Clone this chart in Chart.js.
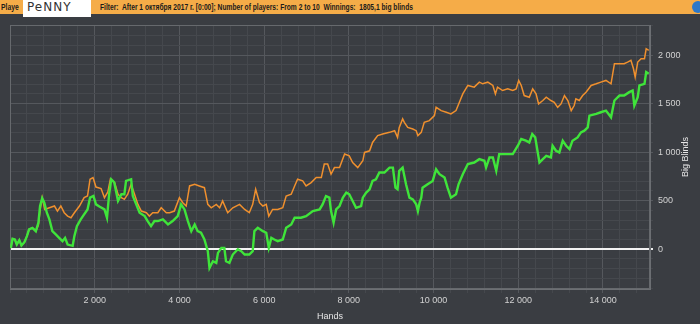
<!DOCTYPE html>
<html>
<head>
<meta charset="utf-8">
<script src="https://cdn.jsdelivr.net/npm/chart.js@4"></script>
<style>
  html, body { margin: 0; padding: 0; background: #3a3d42; overflow: hidden; }
  #wrap { position: relative; width: 700px; height: 324px; }
  #graph { position: absolute; left: 0; top: 0; }
  #bar {
    position: absolute; left: 0; top: 0; width: 700px; height: 14px;
    background: #f5ac48; z-index: 2;
    font: bold 9px "Liberation Sans", sans-serif; color: #1b1b1b;
  }
  #bar .t { position: absolute; top: 2px; white-space: nowrap; transform-origin: left top; }
  #player { left: 1px; transform: scaleX(0.75); }
  #filter { left: 100px; transform: scaleX(0.74); }
  #name {
    position: absolute; left: 23px; top: 0; width: 68px; height: 17px; background: #fff;
    font: 12px "DejaVu Sans", sans-serif; color: #333; letter-spacing: 1px;
    line-height: 15px; padding-left: 4px; box-sizing: border-box; z-index: 3;
  }
  #dot {
    position: absolute; left: 692px; top: 1px; width: 12px; height: 12px;
    border-radius: 50%; background: #2d78c8;
  }
</style>
</head>
<body>
<div id="wrap">
  <canvas id="graph" width="700" height="324"></canvas>
  <div id="bar">
    <span class="t" id="player">Playe</span>
    <div id="name">PeNNY</div>
    <span class="t" id="filter">Filter:&nbsp; After 1 октября 2017 г. [0:00]; Number of players: From 2 to 10&nbsp; Winnings:&nbsp; 1805,1 big blinds</span>
    <div id="dot"></div>
  </div>
</div>
<script>
// net winnings (green) and all-in adjusted (orange), big blinds by hand number
let greenHands = [
    20, 60, 115, 160, 220, 270, 340, 400, 450, 530, 610, 670, 710, 760, 810, 870,
    930, 1000, 1080, 1160, 1240, 1300, 1360, 1480, 1520, 1580, 1670, 1750, 1830, 1890,
    1970, 2030, 2110, 2230, 2290, 2340, 2390, 2460, 2550, 2630, 2700, 2740, 2860, 2900,
    2980, 3060, 3180, 3250, 3330, 3410, 3490, 3610, 3730, 3840, 3960, 4040, 4120, 4200,
    4280, 4360, 4430, 4510, 4590, 4670, 4710, 4790, 4870, 4910, 4990, 5060, 5100, 5180,
    5260, 5380, 5460, 5540, 5650, 5730, 5770, 5850, 5970, 6050, 6110, 6170, 6240, 6320,
    6440, 6520, 6640, 6720, 6870, 6990, 7150, 7310, 7380, 7460, 7540, 7580, 7640, 7700,
    7780, 7860, 7940, 8010, 8090, 8170, 8290, 8330, 8410, 8490, 8560, 8640, 8720, 8840,
    8960, 9040, 9100, 9150, 9190, 9270, 9310, 9350, 9430, 9510, 9590, 9630, 9670, 9710,
    9740, 9860, 9980, 10060, 10140, 10260, 10330, 10410, 10530, 10590, 10690, 10810,
    10960, 11080, 11200, 11240, 11320, 11400, 11480, 11550, 11710, 11870, 11990, 12070,
    12180, 12260, 12330, 12400, 12460, 12500, 12580, 12660, 12770, 12810, 12890, 12970,
    13050, 13130, 13210, 13280, 13400, 13480, 13560, 13640, 13680, 13840, 13950, 14070,
    14190, 14270, 14390, 14500, 14620, 14700, 14740, 14820, 14860, 14980, 15020, 15080
];
let greenValues = [
    13, 107, 100, 48, 93, 38, 72, 135, 204, 220, 186, 272, 445, 525, 479, 376,
    307, 186, 152, 117, 83, 117, 48, 35, 135, 238, 307, 359, 410, 531,
    548, 462, 440, 410, 324, 566, 721, 690, 497, 566, 566, 704, 721, 548,
    462, 376, 341, 290, 238, 290, 290, 307, 255, 290, 341, 462, 410, 290,
    186, 255, 186, 170, 100, -20, -193, -124, -141, -38, 13, 13, -124, -141,
    -55, 0, -20, -55, -55, -20, 186, 220, 186, 170, 13, 117, 100, 83,
    100, 220, 255, 324, 324, 341, 393, 410, 462, 548, 531, 393, 272, 410,
    445, 531, 583, 566, 497, 427, 445, 531, 583, 617, 704, 721, 790, 790,
    841, 841, 634, 617, 807, 841, 755, 669, 531, 514, 462, 393, 479, 531,
    634, 669, 704, 824, 773, 738, 634, 531, 566, 669, 773, 877,
    893, 928, 911, 841, 945, 945, 807, 980, 980, 980, 1066, 1135,
    1118, 1100, 1187, 1152, 997, 893, 928, 962, 945, 1066, 1014, 997,
    1118, 1066, 1031, 1118, 1152, 1204, 1221, 1255, 1376, 1394, 1411, 1428,
    1359, 1532, 1583, 1583, 1618, 1635, 1480, 1566, 1687, 1704, 1825, 1808
];
let orangeHands = [
    20, 60, 115, 160, 220, 270, 340, 400, 450, 530, 610, 670, 710, 760, 820, 930,
    1050, 1120, 1200, 1280, 1360, 1440, 1520, 1640, 1750, 1830, 1890, 1960, 2030, 2150,
    2230, 2310, 2370, 2470, 2550, 2630, 2700, 2780, 2860, 2940, 3020, 3100, 3220, 3290,
    3370, 3490, 3570, 3690, 3770, 3880, 4000, 4080, 4160, 4240, 4360, 4470, 4590, 4670,
    4750, 4870, 4950, 5020, 5140, 5260, 5420, 5540, 5650, 5730, 5800, 5890, 5970, 6050,
    6110, 6200, 6320, 6440, 6520, 6640, 6720, 6790, 6910, 6990, 7110, 7230, 7350, 7420,
    7500, 7580, 7660, 7780, 7900, 8010, 8090, 8210, 8330, 8370, 8490, 8560, 8680, 8800,
    8960, 9080, 9150, 9190, 9270, 9310, 9390, 9510, 9590, 9630, 9710, 9780, 9900, 10020,
    10060, 10180, 10300, 10410, 10530, 10610, 10690, 10810, 10960, 11080, 11160, 11280,
    11400, 11460, 11510, 11630, 11750, 11870, 11950, 12010, 12070, 12140, 12260, 12340,
    12420, 12480, 12580, 12660, 12770, 12850, 12930, 13010, 13090, 13170, 13250, 13320,
    13360, 13440, 13520, 13600, 13720, 13840, 13950, 14070, 14190, 14270, 14390, 14500,
    14580, 14660, 14720, 14760, 14820, 14900, 14980, 15020, 15080
];
let orangeValues = [
    13, 107, 100, 48, 93, 38, 72, 135, 204, 220, 186, 250, 400, 531, 410, 427,
    445, 393, 445, 376, 341, 324, 376, 445, 531, 548, 721, 738, 640, 625,
    531, 590, 721, 686, 566, 531, 514, 566, 669, 566, 462, 393, 376, 341,
    376, 376, 427, 376, 376, 393, 531, 479, 445, 652, 669, 652, 634, 462,
    427, 462, 427, 497, 376, 427, 462, 410, 376, 462, 617, 479, 445, 462,
    341, 410, 410, 427, 548, 566, 652, 721, 704, 652, 686, 738, 738, 877,
    877, 773, 841, 841, 980, 962, 893, 841, 911, 997, 1014, 1100, 1170, 1187,
    1204, 1221, 1152, 1255, 1342, 1307, 1255, 1238, 1221, 1170, 1204, 1307, 1325, 1376,
    1462, 1428, 1411, 1394, 1428, 1514, 1600, 1687, 1670, 1721, 1704, 1721,
    1687, 1600, 1670, 1635, 1652, 1635, 1652, 1739, 1687, 1583, 1566, 1652,
    1600, 1497, 1532, 1566, 1532, 1514, 1462, 1497, 1583, 1532, 1428, 1480,
    1549, 1532, 1583, 1618, 1687, 1704, 1721, 1739, 1704, 1911, 1911, 1911,
    1928, 1946, 1859, 1773, 1928, 1963, 1963, 2066, 2049
];

// axis ranges, labelled ticks and the minor grid step
let handsRange = [0, 15110];
let handLabels = [2000, 4000, 6000, 8000, 10000, 12000, 14000];
let handStep = 400;
let bbRange = [-410, 2310];
let bbLabels = [0, 500, 1000, 1500, 2000];
let bbStep = 100;

function spaced(v) {
    return String(v).replace(/\B(?=(\d{3})+(?!\d))/g, ' ');
}

function pairs(xs, ys) {
    return xs.map((x, i) => ({x: x, y: ys[i]}));
}

function gridTicks(range, step) {
    let out = [];
    for (let v = Math.ceil(range[0] / step) * step; v <= range[1]; v += step) {
        out.push({value: v});
    }
    return out;
}

// frame round the plot plus the two axis titles
const frame = {
    id: 'frame',
    beforeDatasetsDraw(chart) {
        const {ctx, chartArea: a} = chart;
        ctx.save();
        ctx.strokeStyle = '#66696d';
        ctx.lineWidth = 1;
        ctx.strokeRect(a.left + 0.5, a.top + 0.5, a.right - a.left - 1, a.bottom - a.top - 1);
        ctx.restore();
    },
    afterDraw(chart) {
        const ctx = chart.ctx;
        ctx.save();
        ctx.fillStyle = '#e6e6e6';
        ctx.font = '9px "Liberation Sans", sans-serif';
        ctx.textAlign = 'center';
        ctx.textBaseline = 'middle';
        ctx.fillText('Hands', 330, 317);
        ctx.translate(686, 157);
        ctx.rotate(-Math.PI / 2);
        ctx.fillText('Big Blinds', 0, 0);
        ctx.restore();
    }
};

let ctx = document.getElementById('graph').getContext('2d');
let graph = new Chart(ctx, {
    type: 'line',
    data: {
        datasets: [{
            label: 'Net won',
            data: pairs(greenHands, greenValues),
            borderColor: '#3fe43a',
            borderWidth: 2.4,
            pointRadius: 0,
            tension: 0
        }, {
            label: 'All-in adjusted',
            data: pairs(orangeHands, orangeValues),
            borderColor: '#f0902e',
            borderWidth: 1.5,
            pointRadius: 0,
            tension: 0
        }]
    },
    options: {
        responsive: false,
        animation: false,
        devicePixelRatio: 1,
        layout: {
            padding: {top: 25, left: 10, right: 0, bottom: 0}
        },
        plugins: {
            legend: {display: false},
            tooltip: {enabled: false}
        },
        scales: {
            x: {
                type: 'linear',
                min: handsRange[0],
                max: handsRange[1],
                afterBuildTicks: s => { s.ticks = gridTicks(handsRange, handStep) },
                afterFit: s => { s.height = 35 },
                grid: {
                    color: c => handLabels.includes(c.tick.value) ? '#55585d' : '#45484d',
                    tickLength: 4
                },
                border: {color: '#6c6f73'},
                ticks: {
                    autoSkip: false,
                    maxRotation: 0,
                    padding: 2,
                    color: '#d2d2d2',
                    font: {family: 'Liberation Sans', size: 9},
                    callback: v => handLabels.includes(v) ? spaced(v) : ''
                }
            },
            y: {
                position: 'right',
                min: bbRange[0],
                max: bbRange[1],
                afterBuildTicks: s => { s.ticks = gridTicks(bbRange, bbStep) },
                afterFit: s => { s.width = 50 },
                grid: {
                    color: c => c.tick.value === 0 ? '#f2f2f2' :
                        (c.tick.value % 500 === 0 ? '#55585d' : '#45484d'),
                    lineWidth: c => c.tick.value === 0 ? 2 : 1,
                    tickLength: 3
                },
                border: {color: '#6c6f73'},
                ticks: {
                    autoSkip: false,
                    padding: 5,
                    color: '#d2d2d2',
                    font: {family: 'Liberation Sans', size: 9},
                    callback: v => bbLabels.includes(v) ? spaced(v) : ''
                }
            }
        }
    },
    plugins: [frame]
});
</script>
</body>
</html>
